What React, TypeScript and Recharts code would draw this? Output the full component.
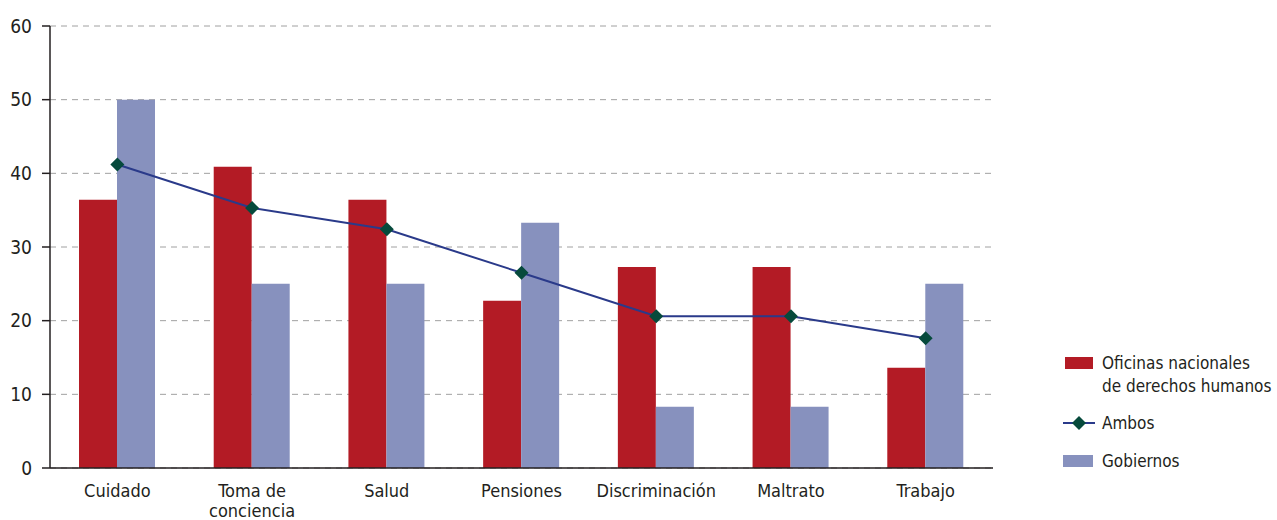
import React from "react";
import { ComposedChart, Bar, Line, XAxis, YAxis, CartesianGrid } from "recharts";

const categories = ["Cuidado", "Toma de conciencia", "Salud", "Pensiones", "Discriminación", "Maltrato", "Trabajo"];
const oficinas = [36.4, 40.9, 36.4, 22.7, 27.3, 27.3, 13.6];
const gobiernos = [50, 25, 25, 33.3, 8.3, 8.3, 25];
const ambos = [41.2, 35.3, 32.4, 26.5, 20.6, 20.6, 17.6];
const yTicks = [0, 10, 20, 30, 40, 50, 60];

const data = categories.map((c, i) => ({ name: c, oficinas: oficinas[i], gobiernos: gobiernos[i], ambos: ambos[i] }));

const FONT = "'Liberation Sans Narrow', 'DejaVu Sans Condensed', 'Arial Narrow', sans-serif";
const RED = "#b31b25";
const BLUE = "#8791be";
const LINE = "#2a3a8a";
const MARK = "#064a3c";
const TEXT = "#231f20";

const XTick = (props: any) => {
  const { x, y, payload } = props;
  const words = String(payload.value);
  const lines = words === "Toma de conciencia" ? ["Toma de", "conciencia"] : [words];
  return (
    <text x={x} y={y} textAnchor="middle" fill={TEXT} fontSize={18} fontFamily={FONT}>
      {lines.map((l, i) => (
        <tspan key={i} x={x} dy={i === 0 ? 21 : 20}>{l}</tspan>
      ))}
    </text>
  );
};

const Diamond = (props: any) => {
  const { cx, cy } = props;
  if (cx == null || cy == null) return null;
  const r = 7;
  return <polygon points={`${cx},${cy - r} ${cx + r},${cy} ${cx},${cy + r} ${cx - r},${cy}`} fill={MARK} />;
};

const LegendBox = () => (
  <svg width={212} height={130} style={{ position: "absolute", left: 1063, top: 351, overflow: "visible" }}>
    <rect x={2} y={6} width={28} height={12} fill={RED} />
    <text x={39} y={18} fontSize={17} fontFamily={FONT} fill={TEXT}>Oficinas nacionales</text>
    <text x={39} y={41} fontSize={17} fontFamily={FONT} fill={TEXT}>de derechos humanos</text>
    <line x1={0} y1={72} x2={32} y2={72} stroke={LINE} strokeWidth={2} />
    <polygon points={`16,65 23,72 16,79 9,72`} fill={MARK} />
    <text x={39} y={78} fontSize={17} fontFamily={FONT} fill={TEXT}>Ambos</text>
    <rect x={0} y={104} width={30} height={12} fill={BLUE} />
    <text x={39} y={116} fontSize={17} fontFamily={FONT} fill={TEXT}>Gobiernos</text>
  </svg>
);

export default function App() {
  return (
    <div style={{ position: "absolute", left: 0, top: 0, width: 1277, height: 520, background: "#fff" }}>
      <ComposedChart
        width={1277}
        height={520}
        data={data}
        margin={{ top: 26, right: 284, bottom: 12, left: 10 }}
        barGap={0}
        barCategoryGap={29}
      >
        <CartesianGrid vertical={false} stroke="#a0a0a0" strokeDasharray="6 5" />
        <XAxis
          dataKey="name"
          height={40}
          tick={<XTick />}
          tickLine={false}
          axisLine={{ stroke: TEXT, strokeWidth: 1.5 }}
          interval={0}
        />
        <YAxis
          width={40}
          domain={[0, 60]}
          ticks={yTicks}
          tickSize={8}
          tickMargin={10}
          tick={{ fill: TEXT, fontSize: 19, fontFamily: FONT }}
          tickLine={{ stroke: TEXT, strokeWidth: 1.5 }}
          axisLine={{ stroke: TEXT, strokeWidth: 1.5 }}
        />
        <Bar dataKey="oficinas" fill={RED} barSize={38} isAnimationActive={false} />
        <Bar dataKey="gobiernos" fill={BLUE} barSize={38} isAnimationActive={false} />
        <Line
          dataKey="ambos"
          stroke={LINE}
          strokeWidth={2}
          dot={<Diamond />}
          activeDot={false}
          isAnimationActive={false}
        />
      </ComposedChart>
      <LegendBox />
    </div>
  );
}
